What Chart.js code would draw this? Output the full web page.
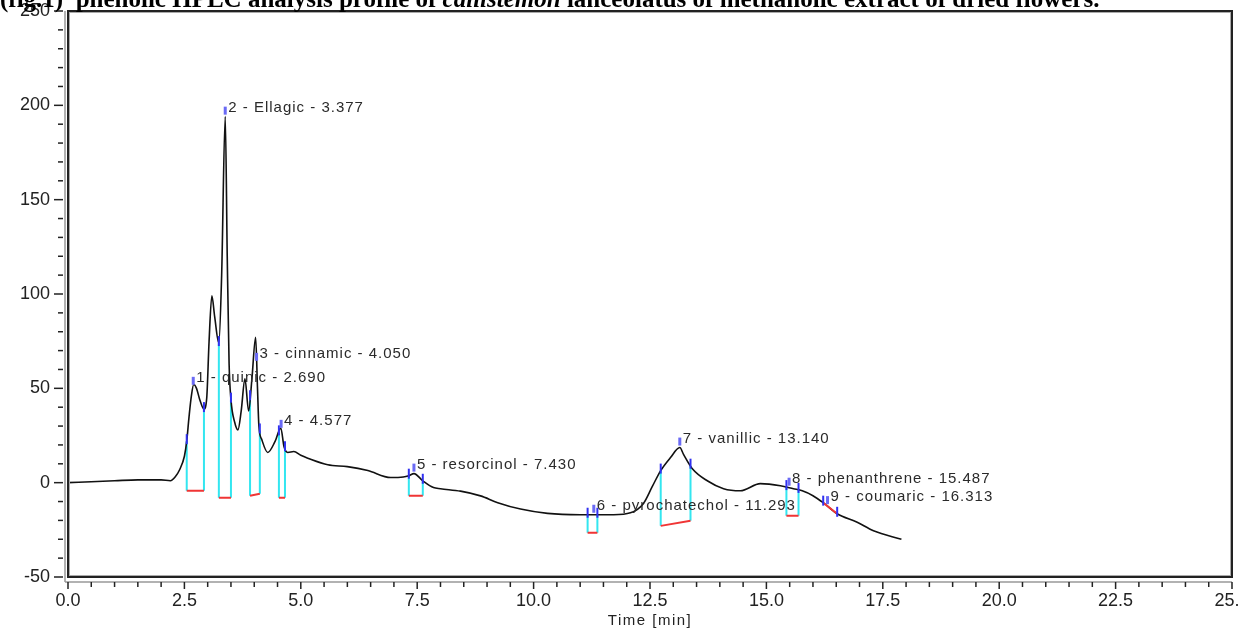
<!DOCTYPE html>
<html>
<head>
<meta charset="utf-8">
<script src="https://cdn.jsdelivr.net/npm/chart.js@4.4.0/dist/chart.umd.min.js"></script>
<style>
  html, body { margin: 0; padding: 0; background: #fff; }
  canvas { display: block; }
</style>
</head>
<body>
<canvas id="c" width="1239" height="628"></canvas>
<script>
// chromatogram trace (time in min, signal in mAU)
const timeValues = [0, 0.5, 1.0, 1.5, 2.0, 2.2, 2.3, 2.4, 2.5, 2.55, 2.6, 2.65, 2.7, 2.76, 2.83, 2.92, 2.98,
  3.03, 3.09, 3.15, 3.24, 3.3, 3.377, 3.42, 3.46, 3.5, 3.58, 3.65, 3.72, 3.8, 3.88, 3.95, 4.03, 4.07, 4.1,
  4.16, 4.29, 4.45, 4.57, 4.64, 4.72, 4.85, 5.0, 5.15, 5.58, 6.0, 6.44, 6.93, 7.2, 7.32, 7.43, 7.62, 7.85,
  8.0, 8.43, 8.86, 9.23, 9.72, 10.3, 11.0, 11.72, 12.08, 12.36, 12.55, 12.73, 12.94, 13.14, 13.22, 13.41,
  13.73, 14.08, 14.44, 14.87, 15.3, 15.58, 15.77, 16.0, 16.22, 16.52, 16.95, 17.3, 17.9];
const signal = [0, 0.5, 1.0, 1.5, 1.5, 1.0, 3, 7, 14, 22, 35, 46, 52, 50, 44, 39, 45,
  75, 99, 88, 74, 110, 194, 120, 63, 44, 32, 28, 38, 55, 38, 55, 77, 50, 30,
  23, 16, 22, 29, 19, 16, 16.5, 14.5, 13, 9.5, 8.5, 6.4, 2.7, 3, 3.7, 4.8, 1, -2.6,
  -3.2, -4.5, -7, -10.6, -14, -16.3, -17, -17, -16, -11, -2, 6.4, 13.3, 18.6, 15, 7.4,
  1, -3.2, -4.3, -0.5, -1.6, -3.2, -4.3, -6.9, -10.6, -16.5, -21, -25.5, -30];

// integrated peaks
const peakNames = ['quinic', 'Ellagic', 'cinnamic', '', 'resorcinol', 'pyrochatechol', 'vanillic', 'phenanthrene', 'coumaric'];
const peakTimes = [2.690, 3.377, 4.050, 4.577, 7.430, 11.293, 13.140, 15.487, 16.313];
const peakStart = [2.55, 3.24, 3.91, 4.53, 7.32, 11.16, 12.73, 15.43, 16.22];
const peakEnd = [2.92, 3.50, 4.12, 4.66, 7.62, 11.37, 13.37, 15.69, 16.52];
const baseStart = [-4.3, -8, -6.9, -8, -6.9, -26.6, -22.9, -17.5, -10.6];
const baseEnd = [-4.3, -8, -5.9, -8, -6.9, -26.6, -20.2, -17.5, -16.5];

const titleParts = [
  ['(fig.1)  phenolic HPLC analysis profile of ', false],
  ['callistemon', true],
  [' lanceolatus of methanolic extract of dried flowers.', false]
];

function valueAt(t) {
  for (let i = 1; i < timeValues.length; i++) {
    if (t <= timeValues[i]) {
      const f = (t - timeValues[i - 1]) / (timeValues[i] - timeValues[i - 1]);
      return signal[i - 1] + f * (signal[i] - signal[i - 1]);
    }
  }
  return signal[signal.length - 1];
}

const trace = timeValues.map((t, i) => ({ x: t, y: signal[i] }));
const drops = [];
const baselines = [];
peakTimes.forEach((rt, i) => {
  drops.push({ x: peakStart[i], y: valueAt(peakStart[i]) }, { x: peakStart[i], y: baseStart[i] }, { x: peakStart[i], y: null });
  drops.push({ x: peakEnd[i], y: valueAt(peakEnd[i]) }, { x: peakEnd[i], y: baseEnd[i] }, { x: peakEnd[i], y: null });
  baselines.push({ x: peakStart[i], y: baseStart[i] }, { x: peakEnd[i], y: baseEnd[i] }, { x: peakEnd[i], y: null });
});

const isMult = (v, s) => Math.abs(v / s - Math.round(v / s)) < 1e-6;

const decor = {
  id: 'decor',
  beforeDraw(chart) {
    const { ctx } = chart;
    ctx.save();
    ctx.fillStyle = '#fff';
    ctx.fillRect(0, 0, chart.width, chart.height);
    ctx.restore();
  },
  afterDatasetsDraw(chart) {
    const { ctx, scales: { x, y } } = chart;
    ctx.save();
    // integration markers + peak labels
    peakTimes.forEach((rt, i) => {
      ctx.strokeStyle = '#3030f0';
      ctx.lineWidth = 2;
      [peakStart[i], peakEnd[i]].forEach(t => {
        const px = x.getPixelForValue(t), py = y.getPixelForValue(valueAt(t));
        ctx.beginPath(); ctx.moveTo(px, py - 7); ctx.lineTo(px, py + 3); ctx.stroke();
      });
      const px = x.getPixelForValue(rt), py = y.getPixelForValue(valueAt(rt));
      ctx.strokeStyle = '#6a6af5';
      ctx.lineWidth = 3;
      ctx.beginPath(); ctx.moveTo(px, py - 2); ctx.lineTo(px, py - 10); ctx.stroke();
      const txt = peakNames[i] ? `${i + 1} - ${peakNames[i]} - ${rt.toFixed(3)}` : `${i + 1} - ${rt.toFixed(3)}`;
      ctx.font = '15px "Liberation Sans", Arial, sans-serif';
      ctx.letterSpacing = '1px';
      ctx.fillStyle = '#2a2a2a';
      ctx.textBaseline = 'middle';
      ctx.fillText(txt, px + 3, py - 9);
    });
    ctx.restore();
  },
  afterDraw(chart) {
    const { ctx, chartArea: a, scales: { x, y } } = chart;
    ctx.save();
    // frame
    ctx.strokeStyle = '#222';
    ctx.lineWidth = 2;
    ctx.strokeRect(a.left, a.top, a.right - a.left, a.bottom - a.top);
    ctx.strokeStyle = '#aaa';
    ctx.lineWidth = 1;
    ctx.strokeRect(a.left + 1.5, a.top + 1.5, a.right - a.left - 3, a.bottom - a.top - 3);
    // outer axis lines
    ctx.strokeStyle = '#999';
    ctx.lineWidth = 1.5;
    ctx.beginPath();
    ctx.moveTo(a.left - 3, a.top); ctx.lineTo(a.left - 3, a.bottom + 5);
    ctx.moveTo(a.left - 3, a.bottom + 5); ctx.lineTo(a.right, a.bottom + 5);
    ctx.stroke();
    // ticks
    ctx.strokeStyle = '#222';
    ctx.lineWidth = 1.5;
    y.ticks.forEach(t => {
      const py = y.getPixelForValue(t.value);
      const major = isMult(t.value, 50);
      ctx.beginPath(); ctx.moveTo(a.left - 5, py); ctx.lineTo(a.left - (major ? 14 : 10), py); ctx.stroke();
    });
    x.ticks.forEach(t => {
      const px = x.getPixelForValue(t.value);
      const major = isMult(t.value, 2.5);
      ctx.beginPath(); ctx.moveTo(px, a.bottom + 5); ctx.lineTo(px, a.bottom + (major ? 12 : 10)); ctx.stroke();
    });
    // axis title
    ctx.fillStyle = '#222';
    ctx.font = '15px "Liberation Sans", Arial, sans-serif';
    ctx.letterSpacing = '1.5px';
    ctx.textAlign = 'center';
    ctx.textBaseline = 'middle';
    ctx.fillText('Time [min]', (a.left + a.right) / 2, 621);
    // figure caption (cut at top edge)
    ctx.textAlign = 'left';
    ctx.textBaseline = 'alphabetic';
    ctx.letterSpacing = '0px';
    ctx.fillStyle = '#000';
    let cx = 0;
    titleParts.forEach(([t, it]) => {
      ctx.font = (it ? 'italic ' : '') + 'bold 25px "Liberation Serif", "Times New Roman", serif';
      ctx.fillText(t, cx, 7);
      cx += ctx.measureText(t).width;
    });
    ctx.restore();
  }
};

new Chart(document.getElementById('c'), {
  type: 'line',
  data: {
    datasets: [
      { data: trace, order: 0, borderColor: '#111', borderWidth: 1.6, pointRadius: 0, cubicInterpolationMode: 'monotone' },
      { data: drops, order: 1, borderColor: '#33e6f0', borderWidth: 2, pointRadius: 0, spanGaps: false },
      { data: baselines, order: -1, borderColor: '#f03535', borderWidth: 2, pointRadius: 0, spanGaps: false }
    ]
  },
  options: {
    responsive: false,
    animation: false,
    devicePixelRatio: 1,
    layout: { padding: { left: 0, top: 11, right: 7, bottom: 0 } },
    plugins: { legend: { display: false }, tooltip: { enabled: false } },
    scales: {
      x: {
        type: 'linear', min: 0, max: 25,
        grid: { display: false, drawTicks: false },
        border: { display: false },
        ticks: {
          stepSize: 0.5, autoSkip: false, maxRotation: 0, padding: 13,
          color: '#222', font: { family: '"Liberation Sans", Arial, sans-serif', size: 18 },
          callback: v => isMult(v, 2.5) ? v.toFixed(1) : ''
        },
        afterFit: s => { s.height = 51; s.paddingLeft = 0; s.paddingRight = 0; }
      },
      y: {
        min: -50, max: 250,
        grid: { display: false, drawTicks: false },
        border: { display: false },
        ticks: {
          stepSize: 10, autoSkip: false, padding: 18,
          color: '#222', font: { family: '"Liberation Sans", Arial, sans-serif', size: 18 },
          callback: v => isMult(v, 50) ? String(v) : ''
        },
        afterFit: s => { s.width = 68; s.paddingTop = 0; s.paddingBottom = 0; }
      }
    }
  },
  plugins: [decor]
});
</script>
</body>
</html>
